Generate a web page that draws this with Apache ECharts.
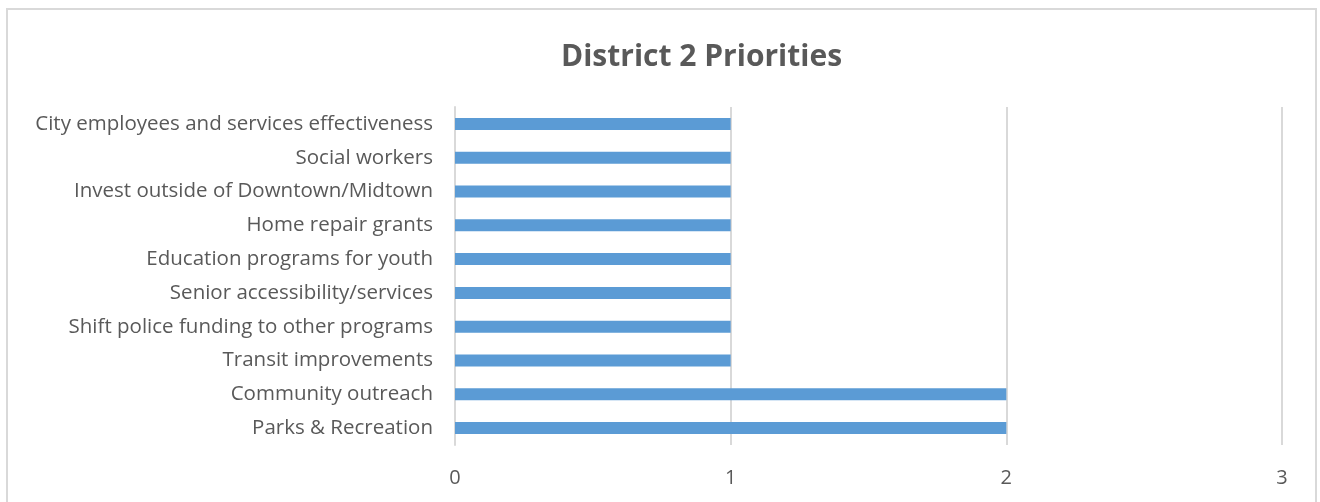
<!DOCTYPE html>
<html>
<head>
<meta charset="utf-8">
<script src="https://cdn.jsdelivr.net/npm/echarts@6/dist/echarts.min.js"></script>
<style>
  html, body { margin: 0; padding: 0; background: #fff; }
  #chart { width: 1320px; height: 502px; }
</style>
</head>
<body>
<div id="chart"></div>
<script>
// Categories listed bottom-to-top (ECharts category y-axis starts at the bottom)
const categories = [
  'Parks & Recreation',
  'Community outreach',
  'Transit improvements',
  'Shift police funding to other programs',
  'Senior accessibility/services',
  'Education programs for youth',
  'Home repair grants',
  'Invest outside of Downtown/Midtown',
  'Social workers',
  'City employees and services effectiveness'
];
const counts = [2, 2, 1, 1, 1, 1, 1, 1, 1, 1];
const xTicks = { min: 0, max: 3, interval: 1 };

const FONT = '"Open Sans", "Noto Sans", sans-serif';
const TEXT = '#595959';
const GRID = '#d9d9d9';

const chart = echarts.init(document.getElementById('chart'), null, { renderer: 'canvas' });
chart.setOption({
  animation: false,
  backgroundColor: '#ffffff',
  title: {
    text: 'District 2 Priorities',
    left: 556,
    top: 37,
    textStyle: { fontFamily: FONT, fontSize: 30, fontWeight: 'bold', color: TEXT }
  },
  graphic: [{
    type: 'rect',
    shape: { x: 7, y: 9, width: 1309, height: 520 },
    style: { fill: 'none', stroke: GRID, lineWidth: 2 },
    silent: true
  }],
  grid: { left: 455, right: 38, top: 107, bottom: 57 },
  xAxis: {
    type: 'value',
    min: xTicks.min,
    max: xTicks.max,
    interval: xTicks.interval,
    axisLine: { show: false },
    axisTick: { show: false },
    splitLine: { show: true, lineStyle: { color: GRID, width: 2 } },
    axisLabel: { margin: 23, color: TEXT, fontFamily: FONT, fontSize: 20 }
  },
  yAxis: {
    type: 'category',
    data: categories,
    axisLine: { show: true, lineStyle: { color: GRID, width: 2 } },
    axisTick: { show: false },
    axisLabel: { margin: 22, color: TEXT, fontFamily: FONT, fontSize: 20.5 }
  },
  series: [{
    type: 'bar',
    data: counts,
    barWidth: 12,
    itemStyle: { color: '#5b9bd5' }
  }]
});
</script>
</body>
</html>
